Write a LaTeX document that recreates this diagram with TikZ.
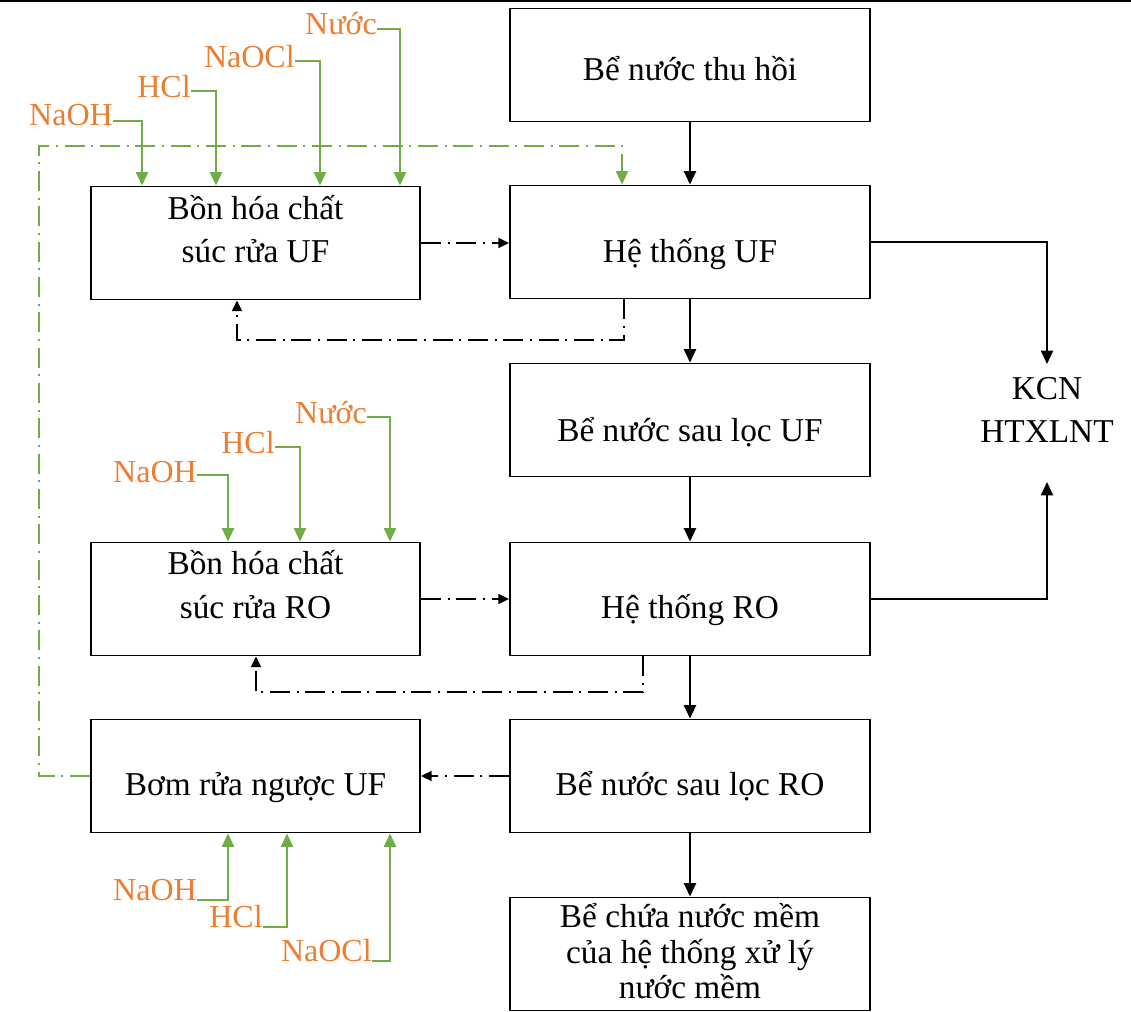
\documentclass[tikz,border=0pt]{standalone}
\usepackage{fontspec}
\setmainfont{Liberation Serif}
\usetikzlibrary{arrows.meta}
\definecolor{gr}{HTML}{70AD47}
\definecolor{og}{HTML}{ED7D31}
\begin{document}
\begin{tikzpicture}[x=0.75pt,y=-0.75pt,
  box/.style={draw, line width=1.4pt, minimum width=270pt, minimum height=84.75pt, inner sep=0pt},
  lbox/.style={box, minimum width=246.75pt},
  txt/.style={anchor=base, inner sep=0pt, font=\fontsize{25}{30}\selectfont},
  lab/.style={anchor=base east, inner sep=0pt, text=og, font=\fontsize{24}{28}\selectfont},
  barrow/.style={line width=1.5pt, -{Triangle[length=10pt,width=9pt]}},
  garrow/.style={draw=gr, line width=1.3pt, -{Triangle[length=10pt,width=9pt]}},
  dd/.style={dash pattern=on 15pt off 5pt on 1.5pt off 5pt},
  bdash/.style={line width=1.4pt, dd, -{Triangle[length=8pt,width=7.5pt]}},
  gdash/.style={draw=gr, line width=1.3pt, dd, -{Triangle[length=10pt,width=9pt]}},
]
\useasboundingbox (0,0) rectangle (1131,1012);
\draw[line width=1.5pt] (0,1) -- (1131,1);

% boxes
\node[box] (thu) at (690,65) {};
\node[box] (heUF) at (690,242) {};
\node[box] (sauUF) at (690,420) {};
\node[box] (heRO) at (690,599) {};
\node[box] (sauRO) at (690,776) {};
\node[box] (chua) at (690,954) {};
\node[lbox] (bonUF) at (255.5,243) {};
\node[lbox] (bonRO) at (255.5,599) {};
\node[lbox] (bom) at (255.5,776) {};

% texts
\node[txt] (tthu) at (690,81) {Bể nước thu hồi};
\node[txt] (theUF) at (690,263) {Hệ thống UF};
\node[txt] (tsauUF) at (690,441) {Bể nước sau lọc UF};
\node[txt] (theRO) at (690,618) {Hệ thống RO};
\node[txt] (tsauRO) at (690,795) {Bể nước sau lọc RO};
\node[txt] (tchua1) at (690,927) {Bể chứa nước mềm};
\node[txt] (tchua2) at (690,963) {của hệ thống xử lý};
\node[txt] (tchua3) at (690,998) {nước mềm};
\node[txt] (tbonUF1) at (255.5,220) {Bồn hóa chất};
\node[txt] (tbonUF2) at (255.5,263) {súc rửa UF};
\node[txt] (tbonRO1) at (255.5,574) {Bồn hóa chất};
\node[txt] (tbonRO2) at (255.5,618) {súc rửa RO};
\node[txt] (tbom) at (255.5,795) {Bơm rửa ngược UF};
\node[txt] (kcn) at (1047,399) {KCN};
\node[txt] (htx) at (1047,442) {HTXLNT};

% chemical inputs
\foreach \nm/\tx/\ex/\by/\ly/\ax in {a1/NaOH/113/126/121/142, a2/HCl/191/98/91/216, a3/NaOCl/295/68/61/320, a4/Nước/377/35/29/400}{
  \node[lab] (\nm) at (\ex,\by) {\tx};
  \coordinate (\nm-s) at (\ex,\ly);
  \coordinate (\nm-x) at (\ax,0);
  \draw[garrow] (\nm-s) -| (\nm-x |- bonUF.north);
}
\foreach \nm/\tx/\ex/\by/\ly/\ax in {b1/NaOH/197/482/475/228, b2/HCl/275/453/447/300, b3/Nước/367/423/417/390}{
  \node[lab] (\nm) at (\ex,\by) {\tx};
  \coordinate (\nm-s) at (\ex,\ly);
  \coordinate (\nm-x) at (\ax,0);
  \draw[garrow] (\nm-s) -| (\nm-x |- bonRO.north);
}
\foreach \nm/\tx/\ex/\by/\ly/\ax in {c1/NaOH/197/900/900/228, c2/HCl/263/927/927/287, c3/NaOCl/372/961/961/390}{
  \node[lab] (\nm) at (\ex,\by) {\tx};
  \coordinate (\nm-s) at (\ex,\ly);
  \coordinate (\nm-x) at (\ax,0);
  \draw[garrow] (\nm-s) -| (\nm-x |- bom.south);
}

% green backwash line
\coordinate (gc) at (39,146);
\coordinate (gx) at (622,0);
\draw[gdash] (bom.west) -| (gc) -| (gx |- heUF.north);

% black dash-dot lines
\draw[bdash] (bonUF.east) -- (bonUF.east -| heUF.west);
\draw[bdash] (bonRO.east) -- (bonRO.east -| heRO.west);
\draw[bdash] (sauRO.west) -- (sauRO.west -| bom.east);
\coordinate (ra) at (624,340);
\coordinate (rb) at (237,340);
\draw[bdash] (ra |- heUF.south) -- (ra) -- (rb) -- (rb |- bonUF.south);
\coordinate (rc) at (643,692);
\coordinate (rd) at (256,692);
\draw[bdash] (rc |- heRO.south) -- (rc) -- (rd) -- (rd |- bonRO.south);

% main flow
\draw[barrow] (thu) -- (heUF);
\draw[barrow] (heUF) -- (sauUF);
\draw[barrow] (sauUF) -- (heRO);
\draw[barrow] (heRO) -- (sauRO);
\draw[barrow] (sauRO) -- (chua);
\coordinate (k1) at (1047,364);
\coordinate (k2) at (1047,482);
\draw[barrow] (heUF.east) -| (k1);
\draw[barrow] (heRO.east) -| (k2);
\end{tikzpicture}
\end{document}
